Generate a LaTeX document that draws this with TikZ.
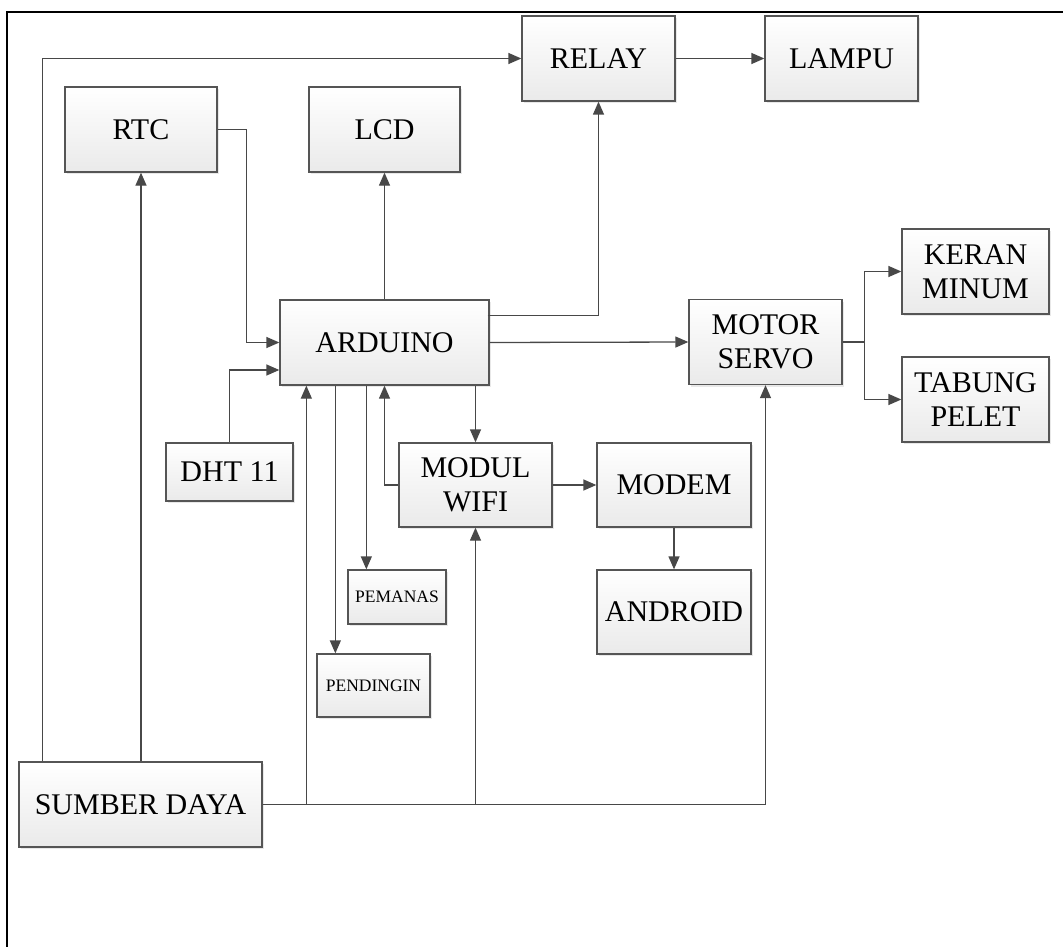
\documentclass[tikz,border=0pt]{standalone}
\usepackage{fontspec}
\setmainfont{Liberation Serif}
\usetikzlibrary{arrows.meta, positioning, shadows, calc}
\definecolor{linegray}{RGB}{72, 72, 72}
\definecolor{boxgray}{RGB}{85, 85, 85}
\definecolor{fillgray}{RGB}{234, 234, 234}

\begin{document}
\begin{tikzpicture}[
    x=1pt, y=-1pt,
    block/.style={
        rectangle,
        draw=boxgray,
        line width=1.3pt,
        top color=white,
        bottom color=fillgray,
        inner sep=0pt,
        minimum width=153pt,
        minimum height=85pt,
        align=center,
        font=\fontsize{30}{34}\selectfont,
        drop shadow={shadow xshift=2pt, shadow yshift=-2pt, opacity=0.18}
    },
    smallblock/.style={block, font=\fontsize{17.5}{20}\selectfont},
    arrow/.style={-{Triangle[length=13pt, width=11pt]}, line width=1.3pt, draw=linegray},
    line/.style={line width=1.3pt, draw=linegray}
]
\useasboundingbox (0,0) rectangle (1063,947);

% Frame
\draw[line width=2pt] (7,947) -- (7,12) -- (1063,12);

% Blocks
\node[block] (relay) at (598.5,58.5) {RELAY};
\node[block] (lampu) at (841.5,58.5) {LAMPU};
\node[block, minimum width=152pt] (rtc) at (141,129.5) {RTC};
\node[block, minimum width=151pt] (lcd) at (384.5,129.5) {LCD};
\node[block, minimum width=209pt] (arduino) at (384.5,342.5) {ARDUINO};
\node[block] (motor) at (765.5,342) {MOTOR\\SERVO};
\node[block, minimum width=147pt] (keran) at (975.5,271.5) {KERAN\\MINUM};
\node[block, minimum width=147pt] (tabung) at (975.5,399.5) {TABUNG\\PELET};
\node[block, minimum width=127pt, minimum height=58pt] (dht) at (229.5,472) {DHT 11};
\node[block, minimum height=84pt] (wifi) at (475.5,485) {MODUL\\WIFI};
\node[block, minimum width=154pt, minimum height=84pt] (modem) at (674,485) {MODEM};
\node[block, minimum width=154pt, minimum height=84pt] (android) at (674,612) {ANDROID};
\node[smallblock, minimum width=98pt, minimum height=54pt] (pemanas) at (397,597) {PEMANAS};
\node[smallblock, minimum width=113pt, minimum height=63pt] (pendingin) at (373.5,685.5) {PENDINGIN};
\node[block, minimum width=243pt] (sumber) at (140.5,804.5) {SUMBER DAYA};

% Helper points on the block edges
\coordinate (pwrup) at ($(sumber.north west)+(24,0)$);
\coordinate (toard) at ($(arduino.south west)+(27,0)$);
\coordinate (topd) at ($(pendingin.north west)+(19,0)$);
\coordinate (topm) at ($(pemanas.north west)+(19,0)$);

% Supply lines
\draw[arrow] (pwrup) |- (relay.west);
\draw[arrow] (sumber.north -| rtc.south) -- (rtc.south);
\draw[line] (sumber.east) -- (sumber.east -| toard);
\draw[arrow] (sumber.east -| toard) -- (toard);
\draw[arrow] (sumber.east -| wifi.south) -- (wifi.south);
\draw[arrow] (sumber.east) -| (motor.south);

% Inputs to the Arduino
\draw[arrow] (rtc.east) -- ++(29,0) |- (arduino.west);
\draw[arrow] (dht.north) |- ($(arduino.west)+(0,27.5)$);
\draw[arrow] (wifi.west) -| (arduino.south);

% Outputs of the Arduino
\draw[arrow] (arduino.north) -- (lcd.south);
\draw[arrow] ($(arduino.north east)+(-2,16)$) -| (relay.south);
\draw[arrow] (arduino.east) -- (motor.west);
\draw[arrow] (arduino.south -| topd) -- (topd);
\draw[arrow] (arduino.south -| topm) -- (topm);
\draw[arrow] (arduino.south -| wifi.north) -- (wifi.north);

% Further links
\draw[arrow] (relay.east) -- (lampu.west);
\draw[arrow] (motor.east) -- ++(22,0) coordinate (split) |- (keran.west);
\draw[arrow] (split) |- (tabung.west);
\draw[arrow] (wifi.east) -- (modem.west);
\draw[arrow] (modem.south) -- (android.north);

\end{tikzpicture}
\end{document}
